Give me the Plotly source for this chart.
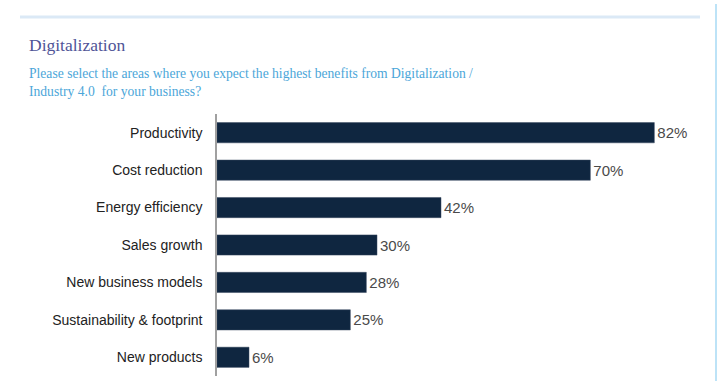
import plotly.graph_objects as go

# Survey answers (share of respondents, %)
areas = [
    "Productivity",
    "Cost reduction",
    "Energy efficiency",
    "Sales growth",
    "New business models",
    "Sustainability & footprint",
    "New products",
]
shares = [82, 70, 42, 30, 28, 25, 6]
value_labels = [f"{v}%" for v in shares]

W, H = 717, 381
L, R, T, B = 217, 20, 114, 5
pw, ph = W - L - R, H - T - B


def px_x(x):
    return (x - L) / pw


def px_y(y):
    return (H - B - y) / ph


fig = go.Figure(
    go.Bar(
        x=shares,
        y=areas,
        orientation="h",
        marker=dict(color="#0f2640", line=dict(color="#3a4a60", width=0.5)),
        width=0.54,
        text=value_labels,
        textposition="outside",
        textfont=dict(family="Liberation Sans, Arial, sans-serif", size=15, color="#4a4a4a"),
        cliponaxis=False,
        hoverinfo="skip",
    )
)

fig.update_layout(
    width=W,
    height=H,
    margin=dict(l=L, r=R, t=T, b=B),
    paper_bgcolor="white",
    plot_bgcolor="white",
    showlegend=False,
    bargap=0.46,
    xaxis=dict(range=[0, 90], visible=False, fixedrange=True),
    yaxis=dict(
        categoryorder="array",
        categoryarray=areas[::-1],
        showline=True,
        linecolor="#a0a0a0",
        linewidth=1.5,
        ticks="",
        ticklabelstandoff=10,
        tickfont=dict(family="Liberation Sans, Arial, sans-serif", size=14, color="#222222"),
        showgrid=False,
        zeroline=False,
        fixedrange=True,
    ),
    shapes=[
        dict(
            type="line", xref="paper", yref="paper",
            x0=px_x(20), x1=px_x(700), y0=px_y(17), y1=px_y(17),
            line=dict(color="#dbe9f6", width=3),
        ),
        dict(
            type="line", xref="paper", yref="paper",
            x0=px_x(716), x1=px_x(716), y0=px_y(4), y1=px_y(381),
            line=dict(color="#bde3f7", width=2),
        ),
    ],
    annotations=[
        dict(
            text="Digitalization",
            xref="paper", yref="paper",
            x=px_x(27), y=px_y(45),
            xanchor="left", yanchor="middle", showarrow=False,
            font=dict(family="Liberation Serif, Times New Roman, serif", size=17.5, color="#4f5497"),
        ),
        dict(
            text="Please select the areas where you expect the highest benefits from Digitalization /<br>Industry 4.0  for your business?",
            xref="paper", yref="paper",
            x=px_x(27), y=px_y(82),
            xanchor="left", yanchor="middle", align="left", showarrow=False,
            font=dict(family="Liberation Serif, Times New Roman, serif", size=13.6, color="#4ba6d9"),
        ),
    ],
)

fig.write_html("out.html")
